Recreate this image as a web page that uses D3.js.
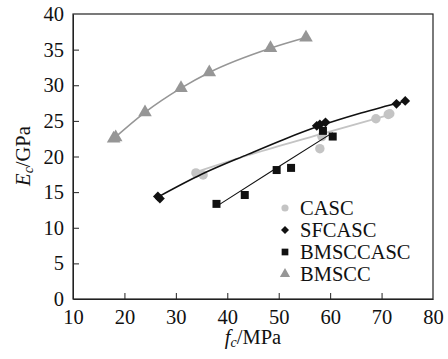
<!DOCTYPE html>
<html>
<head>
<meta charset="utf-8">
<script src="https://cdn.jsdelivr.net/npm/d3@7/dist/d3.min.js"></script>
<style>
  body { margin: 0; background: #fff; }
  svg text { font-family: "Liberation Serif", "Times New Roman", serif; fill: #111; }
</style>
</head>
<body>
<div id="chart"></div>
<script>
// Data: fc (MPa) against Ec (GPa)
var xTicks = [10, 20, 30, 40, 50, 60, 70, 80]
var yTicks = [0, 5, 10, 15, 20, 25, 30, 35, 40]

var cascPts = [[33.9, 17.7], [35.3, 17.4], [58.0, 21.1], [58.4, 22.8], [68.9, 25.3], [71.3, 25.9], [71.6, 26.0]]
var cascFit = [[33.9, 17.8], [46, 20.6], [58, 23.1], [71.3, 25.8]]

var sfcascPts = [[26.5, 14.4], [26.9, 14.1], [57.4, 24.3], [58.0, 24.5], [59.1, 24.8], [72.9, 27.4], [74.6, 27.8]]
var sfcascFit = [[26.5, 14.3], [35, 17.5], [44, 20.3], [51, 22.4], [58, 24.3], [66, 26.1], [74.6, 27.8]]

var bmsccascPts = [[37.9, 13.35], [43.4, 14.6], [49.6, 18.1], [52.4, 18.4], [58.6, 23.6], [60.5, 22.8]]
var bmsccascFit = [[37.9, 13.0], [49.2, 18.2], [60.5, 23.35]]

var bmsccPts = [[17.9, 22.5], [18.3, 22.7], [24.0, 26.2], [31.0, 29.6], [36.5, 31.8], [48.4, 35.2], [55.3, 36.7]]
var bmsccFit = [[17.9, 22.5], [24.0, 26.2], [31.0, 29.6], [36.5, 31.8], [48.4, 35.2], [55.3, 36.7]]

var legendNames = ['CASC', 'SFCASC', 'BMSCCASC', 'BMSCC']

var W = 448, H = 359
var margin = {top: 14, right: 15, bottom: 60, left: 73}
var width = W - margin.left - margin.right
var height = H - margin.top - margin.bottom
var serif = '"Liberation Serif", "Times New Roman", serif'
var fs = '20.5px'

var svg = d3.select('#chart').append('svg')
    .attr('width', W)
    .attr('height', H)

var g = svg.append('g').attr('transform', 'translate(' + margin.left + ',' + margin.top + ')')

var x = d3.scaleLinear().domain([10, 80]).range([0, width])
var y = d3.scaleLinear().domain([0, 40]).range([height, 0])

// Axes with inward ticks
var xAxis = g.append('g')
    .attr('transform', 'translate(0,' + height + ')')
    .call(d3.axisBottom(x).tickValues(xTicks).tickSizeInner(-6).tickSizeOuter(0).tickPadding(10))
var yAxis = g.append('g')
    .call(d3.axisLeft(y).tickValues(yTicks).tickSizeInner(-6).tickSizeOuter(0).tickPadding(9))

;[xAxis, yAxis].forEach(function(a) {
  a.attr('font-family', serif)
  a.selectAll('text')
      .attr('font-size', fs)
      .attr('fill', '#111')
  a.selectAll('line').attr('stroke', '#222')
  a.select('.domain').attr('stroke', '#222')
})
// keep edge ticks off the frame
xAxis.selectAll('.tick line').filter(function(d) { return d === 10 || d === 80 }).remove()
yAxis.selectAll('.tick line').filter(function(d) { return d === 0 || d === 40 }).remove()

// Frame
g.append('rect')
    .attr('width', width)
    .attr('height', height)
    .attr('fill', 'none')
    .attr('stroke', '#222')
    .attr('stroke-width', 1.2)

// Axis titles
var xt = svg.append('text')
    .attr('x', margin.left + width / 2)
    .attr('y', 344)
    .attr('text-anchor', 'middle')
    .attr('font-size', fs)
xt.append('tspan').attr('font-style', 'italic').text('f')
xt.append('tspan').attr('font-style', 'italic').attr('font-size', '14px').attr('dy', 3).text('c')
xt.append('tspan').attr('dy', -3).text('/MPa')

var yt = svg.append('text')
    .attr('transform', 'translate(30,156) rotate(-90)')
    .attr('text-anchor', 'middle')
    .attr('font-size', fs)
yt.append('tspan').attr('font-style', 'italic').text('E')
yt.append('tspan').attr('font-style', 'italic').attr('font-size', '14px').attr('dy', 3).text('c')
yt.append('tspan').attr('dy', -3).text('/GPa')

var line = d3.line()
    .x(function(d) { return x(d[0]) })
    .y(function(d) { return y(d[1]) })
    .curve(d3.curveMonotoneX)

var series = [
  {name: 'CASC', pts: cascPts, fit: cascFit, color: '#c4c4c4', lw: 1.8, sym: d3.symbolCircle, size: 70, lsize: 40, rot: 0},
  {name: 'SFCASC', pts: sfcascPts, fit: sfcascFit, color: '#111', lw: 1.6, sym: d3.symbolSquare, size: 48, lsize: 32, rot: 45},
  {name: 'BMSCCASC', pts: bmsccascPts, fit: bmsccascFit, color: '#111', lw: 1.1, sym: d3.symbolSquare, size: 64, lsize: 45, rot: 0},
  {name: 'BMSCC', pts: bmsccPts, fit: bmsccFit, color: '#969696', lw: 1.6, sym: d3.symbolTriangle, size: 80, lsize: 45, rot: 0}
]

series.forEach(function(s) {
  g.append('path')
      .datum(s.fit)
      .attr('fill', 'none')
      .attr('stroke', s.color)
      .attr('stroke-width', s.lw)
      .attr('d', line)

  g.selectAll(null)
      .data(s.pts)
      .enter().append('path')
      .attr('transform', function(d) { return 'translate(' + x(d[0]) + ',' + y(d[1]) + ') rotate(' + s.rot + ')' })
      .attr('d', d3.symbol().type(s.sym).size(s.size))
      .attr('fill', s.color)
})

// Legend
var legend = svg.append('g').attr('transform', 'translate(285,208)')
series.forEach(function(s, i) {
  var row = legend.append('g').attr('transform', 'translate(0,' + (i * 22) + ')')
  row.append('path')
      .attr('transform', 'rotate(' + s.rot + ')')
      .attr('d', d3.symbol().type(s.sym).size(s.lsize))
      .attr('fill', s.color)
  row.append('text')
      .attr('x', 15)
      .attr('y', 7)
      .attr('font-size', fs)
      .text(legendNames[i])
})
</script>
</body>
</html>
